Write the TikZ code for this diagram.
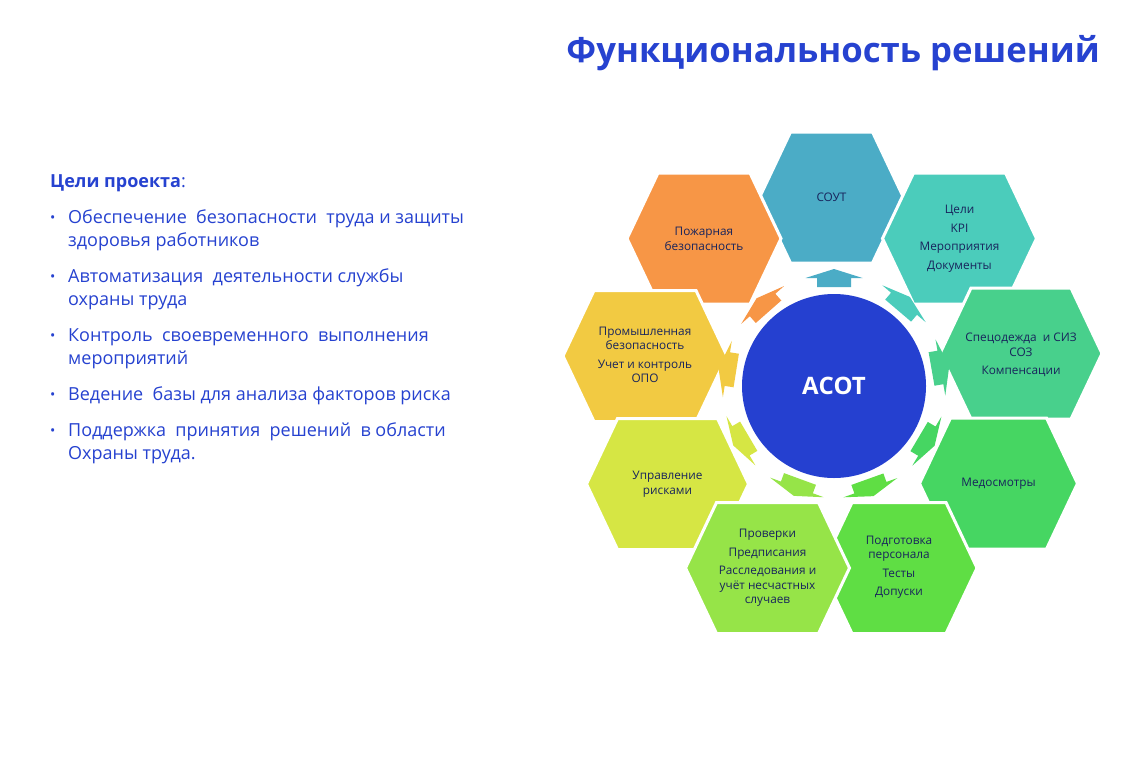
\documentclass[tikz,border=0pt]{standalone}
\usepackage{fontspec}
\setmainfont{Open Sans}
\usepackage{xcolor}
\usetikzlibrary{positioning}

\definecolor{titleblue}{RGB}{38,66,208}
\definecolor{asotblue}{RGB}{37,64,208}
\definecolor{hexink}{RGB}{24,36,92}
\definecolor{cFire}{RGB}{247,150,70}
\definecolor{cSout}{RGB}{75,172,198}
\definecolor{cGoals}{RGB}{75,204,187}
\definecolor{cPpe}{RGB}{72,208,140}
\definecolor{cMed}{RGB}{70,214,98}
\definecolor{cTrain}{RGB}{95,222,68}
\definecolor{cAudit}{RGB}{150,228,72}
\definecolor{cRisk}{RGB}{214,230,68}
\definecolor{cInd}{RGB}{242,202,66}

\begin{document}
\begin{tikzpicture}[x=1pt, y=-1pt,
  hexa/.pic={\path[pic actions] (-#1,0) -- (-#1+31,-65.5) -- (#1-31,-65.5) -- (#1,0) -- (#1-31,65.5) -- (-#1+31,65.5) -- cycle;},
  outarrow/.pic={\path[pic actions] (99,-17) -- (108,-17) -- (108,-28.5) -- (117,0) -- (108,28.5) -- (108,17) -- (99,17) -- cycle;},
  hexfill/.style={draw=white, line width=3pt, line join=miter},
  hextext/.style={font=\fontsize{11.8}{14.5}\selectfont, text=hexink, align=center, inner sep=0pt},
  goal/.style={anchor=base west, inner sep=0pt, text=titleblue, font=\fontsize{18}{23.5}\selectfont}]
\path[use as bounding box, fill=white] (0,0) rectangle (1123,760);

% title
\node[anchor=base east, inner sep=0pt, text=titleblue, font=\fontsize{34.7}{40}\selectfont\bfseries] (title) at (1100,63) {Функциональность решений};

% goals of the project
\node[goal] (head) at (50,187) {\textbf{Цели проекта}:};
\node[goal] (g1) at (50,223) {\begin{tabular}[t]{@{}p{18pt}@{}l@{}}\raisebox{1pt}{\fontsize{14}{14}\selectfont•}&Обеспечение~ безопасности~ труда и защиты\\&здоровья работников\end{tabular}};
\node[goal] (g2) at (50,282) {\begin{tabular}[t]{@{}p{18pt}@{}l@{}}\raisebox{1pt}{\fontsize{14}{14}\selectfont•}&Автоматизация~ деятельности службы\\&охраны труда\end{tabular}};
\node[goal] (g3) at (50,341) {\begin{tabular}[t]{@{}p{18pt}@{}l@{}}\raisebox{1pt}{\fontsize{14}{14}\selectfont•}&Контроль~ своевременного~ выполнения\\&мероприятий\end{tabular}};
\node[goal] (g4) at (50,400) {\begin{tabular}[t]{@{}p{18pt}@{}l@{}}\raisebox{1pt}{\fontsize{14}{14}\selectfont•}&Ведение~ базы для анализа факторов риска\end{tabular}};
\node[goal] (g5) at (50,436) {\begin{tabular}[t]{@{}p{18pt}@{}l@{}}\raisebox{1pt}{\fontsize{14}{14}\selectfont•}&Поддержка~ принятия~ решений~ в области\\&Охраны труда.\end{tabular}};

% hexagons round the centre
\pic[hexfill, fill=cSout] at (831.5,197.5) {hexa=72};
\pic[hexfill, fill=cGoals] at (959.5,238.5) {hexa=77};
\pic[hexfill, fill=cFire] at (704,238.5) {hexa=77};
\pic[hexfill, fill=cPpe] at (1021,353.5) {hexa=81};
\pic[hexfill, fill=cInd] at (645,356) {hexa=82};
\pic[hexfill, fill=cMed] at (998.5,483.5) {hexa=79};
\pic[hexfill, fill=cRisk] at (667.5,484) {hexa=81};
\pic[hexfill, fill=cTrain] at (899,568) {hexa=78};
\pic[hexfill, fill=cAudit] at (767.5,568) {hexa=82};

\node[hextext] (sout) at (831.5,197.5) {СОУТ};
\node[hextext] (goals) at (959.5,238.5) {Цели\\[4pt]KPI\\[4pt]Мероприятия\\[4pt]Документы};
\node[hextext] (fire) at (704,239) {Пожарная\\безопасность};
\node[hextext] (ppe) at (1021,355) {Спецодежда~ и СИЗ\\СОЗ\\[4pt]Компенсации};
\node[hextext] (ind) at (645,355) {Промышленная\\безопасность\\[4pt]Учет и контроль\\ОПО};
\node[hextext] (med) at (998.5,484) {Медосмотры};
\node[hextext] (risk) at (667.5,484) {Управление\\рисками};
\node[hextext] (train) at (899,567) {Подготовка\\персонала\\[4pt]Тесты\\[4pt]Допуски};
\node[hextext] (audit) at (767.5,568) {Проверки\\[4pt]Предписания\\[4pt]Расследования и\\учёт несчастных\\случаев};

% centre and arrows
\node[circle, fill=asotblue, minimum size=184pt, inner sep=0pt, text=white, font=\fontsize{24}{28}\selectfont\bfseries] (asot) at (834,386) {АСОТ};
\pic[rotate=90, fill=cSout] at (asot) {outarrow};
\pic[rotate=49.6, fill=cGoals] at (asot) {outarrow};
\pic[rotate=9.9, fill=cPpe] at (asot) {outarrow};
\pic[rotate=-30.7, fill=cMed] at (asot) {outarrow};
\pic[rotate=-70.3, fill=cTrain] at (asot) {outarrow};
\pic[rotate=-110.1, fill=cAudit] at (asot) {outarrow};
\pic[rotate=-149.5, fill=cRisk] at (asot) {outarrow};
\pic[rotate=171, fill=cInd] at (asot) {outarrow};
\pic[rotate=131.4, fill=cFire] at (asot) {outarrow};
\end{tikzpicture}
\end{document}
